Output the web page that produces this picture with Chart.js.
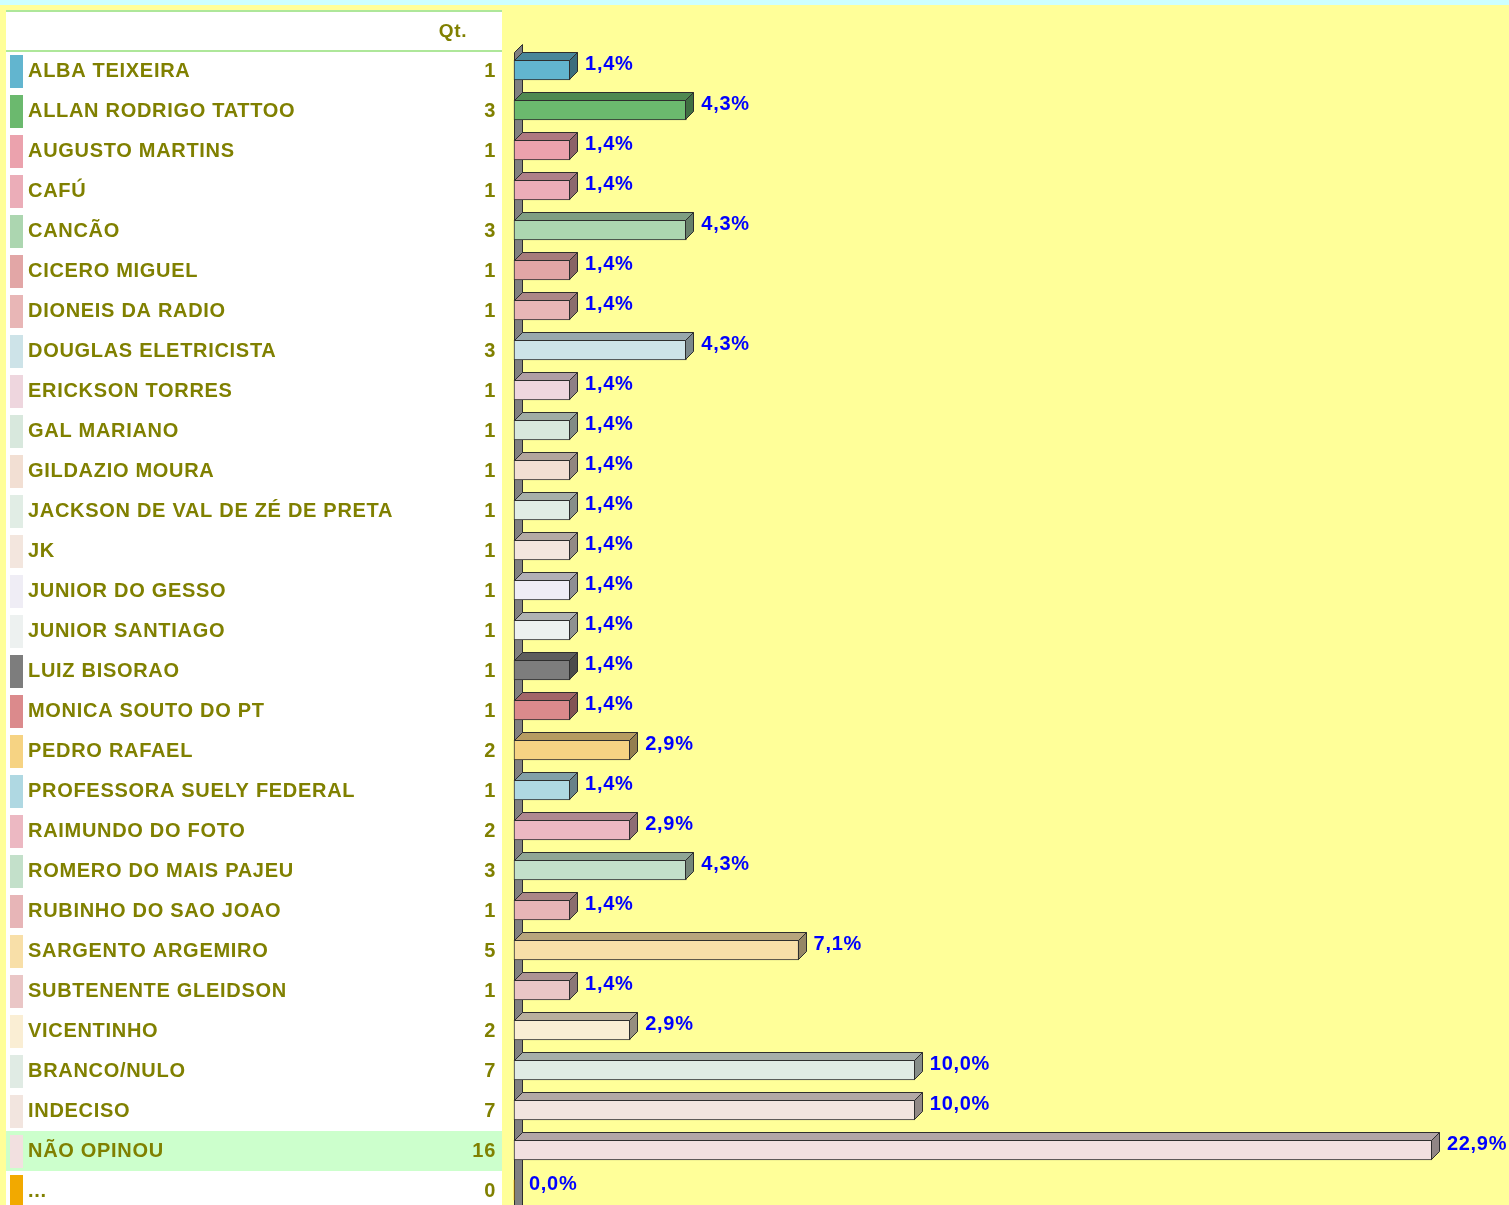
<!DOCTYPE html>
<html>
<head>
<meta charset="utf-8">
<script src="https://cdn.jsdelivr.net/npm/chart.js@4.4.1/dist/chart.umd.min.js"></script>
<style>
  html, body { margin: 0; padding: 0; overflow: hidden; background: #ffff99; }
  #wrap { width: 1509px; height: 1205px; }
  canvas { display: block; }
</style>
</head>
<body>
<div id="wrap"><canvas id="poll" width="1509" height="1205"></canvas></div>
<script>
// Poll results: one row per option
const rowNames = [
  "ALBA TEIXEIRA", "ALLAN RODRIGO TATTOO", "AUGUSTO MARTINS", "CAFÚ", "CANCÃO",
  "CICERO MIGUEL", "DIONEIS DA RADIO", "DOUGLAS ELETRICISTA", "ERICKSON TORRES",
  "GAL MARIANO", "GILDAZIO MOURA", "JACKSON DE VAL DE ZÉ DE PRETA", "JK",
  "JUNIOR DO GESSO", "JUNIOR SANTIAGO", "LUIZ BISORAO", "MONICA SOUTO DO PT",
  "PEDRO RAFAEL", "PROFESSORA SUELY FEDERAL", "RAIMUNDO DO FOTO",
  "ROMERO DO MAIS PAJEU", "RUBINHO DO SAO JOAO", "SARGENTO ARGEMIRO",
  "SUBTENENTE GLEIDSON", "VICENTINHO", "BRANCO/NULO", "INDECISO", "NÃO OPINOU", "..."
];
const voteCounts = [1, 3, 1, 1, 3, 1, 1, 3, 1, 1, 1, 1, 1, 1, 1, 1, 1, 2, 1, 2, 3, 1, 5, 1, 2, 7, 7, 16, 0];
const sharePct = [1.4, 4.3, 1.4, 1.4, 4.3, 1.4, 1.4, 4.3, 1.4, 1.4, 1.4, 1.4, 1.4, 1.4, 1.4, 1.4, 1.4,
                  2.9, 1.4, 2.9, 4.3, 1.4, 7.1, 1.4, 2.9, 10.0, 10.0, 22.9, 0.0];
const rowColors = [
  "#62b5cf", "#6bb96e", "#eba2ad", "#ebadb8", "#acd6b0", "#e2a6a6", "#e8b6b6", "#cde3e8",
  "#eed6de", "#d8e8dd", "#f2dfd3", "#e1ede5", "#f3e6de", "#efedf5", "#edf1f0", "#7d7d7d",
  "#db8a8c", "#f6d383", "#afd8e2", "#ecb8c2", "#c3e0ca", "#e7b5b7", "#f8dfa8", "#eac6c6",
  "#faeed4", "#e0ebe4", "#f2e5df", "#f2e0e0", "#f2a900"
];
const headerCount = "Qt.";
const highlightedRow = "NÃO OPINOU";

const DEPTH = 8;
const TEXT_OLIVE = "#808000";
const EDGE = "#2e2e2e";

function shade(hex, f) {
  const n = parseInt(hex.slice(1), 16);
  const r = Math.round(((n >> 16) & 255) * f);
  const g = Math.round(((n >> 8) & 255) * f);
  const b = Math.round((n & 255) * f);
  return `rgb(${r},${g},${b})`;
}
function poly(ctx, pts, fill) {
  ctx.beginPath();
  ctx.moveTo(pts[0][0], pts[0][1]);
  for (let i = 1; i < pts.length; i++) ctx.lineTo(pts[i][0], pts[i][1]);
  ctx.closePath();
  ctx.fillStyle = fill;
  ctx.fill();
  ctx.strokeStyle = EDGE;
  ctx.lineWidth = 1;
  ctx.stroke();
}
const fmtPct = v => v.toFixed(1).replace(".", ",") + "%";

// Background, the left-hand table and the 3D axis wall
const tablePlugin = {
  id: "tablePlugin",
  beforeDraw(chart) {
    const { ctx, width, height } = chart;
    const yS = chart.scales.y;
    ctx.save();
    ctx.fillStyle = "#ffff99";
    ctx.fillRect(0, 0, width, height);
    ctx.fillStyle = "#ccffff";
    ctx.fillRect(0, 0, width, 5);

    // table panel
    ctx.fillStyle = "#ffffff";
    ctx.fillRect(6, 10, 496, height - 10);
    ctx.fillStyle = "#aee79a";
    ctx.fillRect(6, 10, 496, 2);
    ctx.fillRect(6, 50, 496, 2);

    ctx.letterSpacing = "0.7px";
    ctx.fillStyle = TEXT_OLIVE;
    ctx.font = "bold 19px 'Liberation Sans', Arial, sans-serif";
    ctx.textAlign = "center";
    ctx.textBaseline = "alphabetic";
    ctx.fillText(headerCount, 453, 37);

    ctx.font = "bold 20px 'Liberation Sans', Arial, sans-serif";
    rowNames.forEach((name, i) => {
      const c = yS.getPixelForValue(i);
      if (name === highlightedRow) {
        ctx.fillStyle = "#ccffcc";
        ctx.fillRect(6, c - 19, 496, 40);
      }
      ctx.fillStyle = rowColors[i];
      ctx.fillRect(10, c - 15, 13, 33);
      ctx.fillStyle = TEXT_OLIVE;
      ctx.textAlign = "left";
      ctx.fillText(name, 28, c + 7);
      ctx.textAlign = "right";
      ctx.fillText(String(voteCounts[i]), 496, c + 7);
    });
    ctx.restore();
  },
  beforeDatasetsDraw(chart) {
    const { ctx, chartArea, height } = chart;
    const yS = chart.scales.y;
    const x0 = chartArea.left + 0.5;
    const top = yS.getPixelForValue(0) - 17.5;
    ctx.save();
    poly(ctx, [[x0, top], [x0 + DEPTH, top - DEPTH], [x0 + DEPTH, height + 10], [x0, height + 18]], "#808080");
    ctx.restore();
  },
  afterDatasetsDraw(chart) {
    const { ctx } = chart;
    const meta = chart.getDatasetMeta(0);
    ctx.save();
    meta.data.forEach((bar, i) => {
      const p = bar.getProps(["x", "y", "base", "height"], true);
      const t = Math.round(p.y - p.height / 2) + 0.5;
      const b = Math.round(p.y + p.height / 2) - 0.5;
      const x1 = Math.round(p.x) - 0.5;
      const x0 = Math.round(p.base) + 0.5;
      if (x1 - x0 > 1) {
        poly(ctx, [[x0, t], [x0 + DEPTH, t - DEPTH], [x1 + DEPTH, t - DEPTH], [x1, t]], shade(rowColors[i], 0.74));
        poly(ctx, [[x1, t], [x1 + DEPTH, t - DEPTH], [x1 + DEPTH, b - DEPTH], [x1, b]], shade(rowColors[i], 0.6));
      }
      ctx.letterSpacing = "0.7px";
      ctx.font = "bold 20px 'Liberation Sans', Arial, sans-serif";
      ctx.fillStyle = "#0000ff";
      ctx.textAlign = "left";
      ctx.textBaseline = "alphabetic";
      ctx.fillText(fmtPct(sharePct[i]), p.x + 15, p.y);
    });
    ctx.restore();
  }
};

new Chart(document.getElementById("poll"), {
  type: "bar",
  data: {
    labels: rowNames,
    datasets: [{
      data: sharePct,
      backgroundColor: rowColors,
      borderColor: EDGE,
      borderWidth: c => (c.raw > 0 ? 1 : 0),
      borderSkipped: false,
      barThickness: 20,
      clip: false
    }]
  },
  options: {
    indexAxis: "y",
    responsive: false,
    devicePixelRatio: 1,
    animation: false,
    layout: { padding: { left: 514, right: 33, top: 70, bottom: 15 } },
    scales: {
      x: { display: false, min: 0, max: 24 },
      y: { display: false, offset: false }
    },
    plugins: { legend: { display: false }, tooltip: { enabled: false } }
  },
  plugins: [tablePlugin]
});
</script>
</body>
</html>
